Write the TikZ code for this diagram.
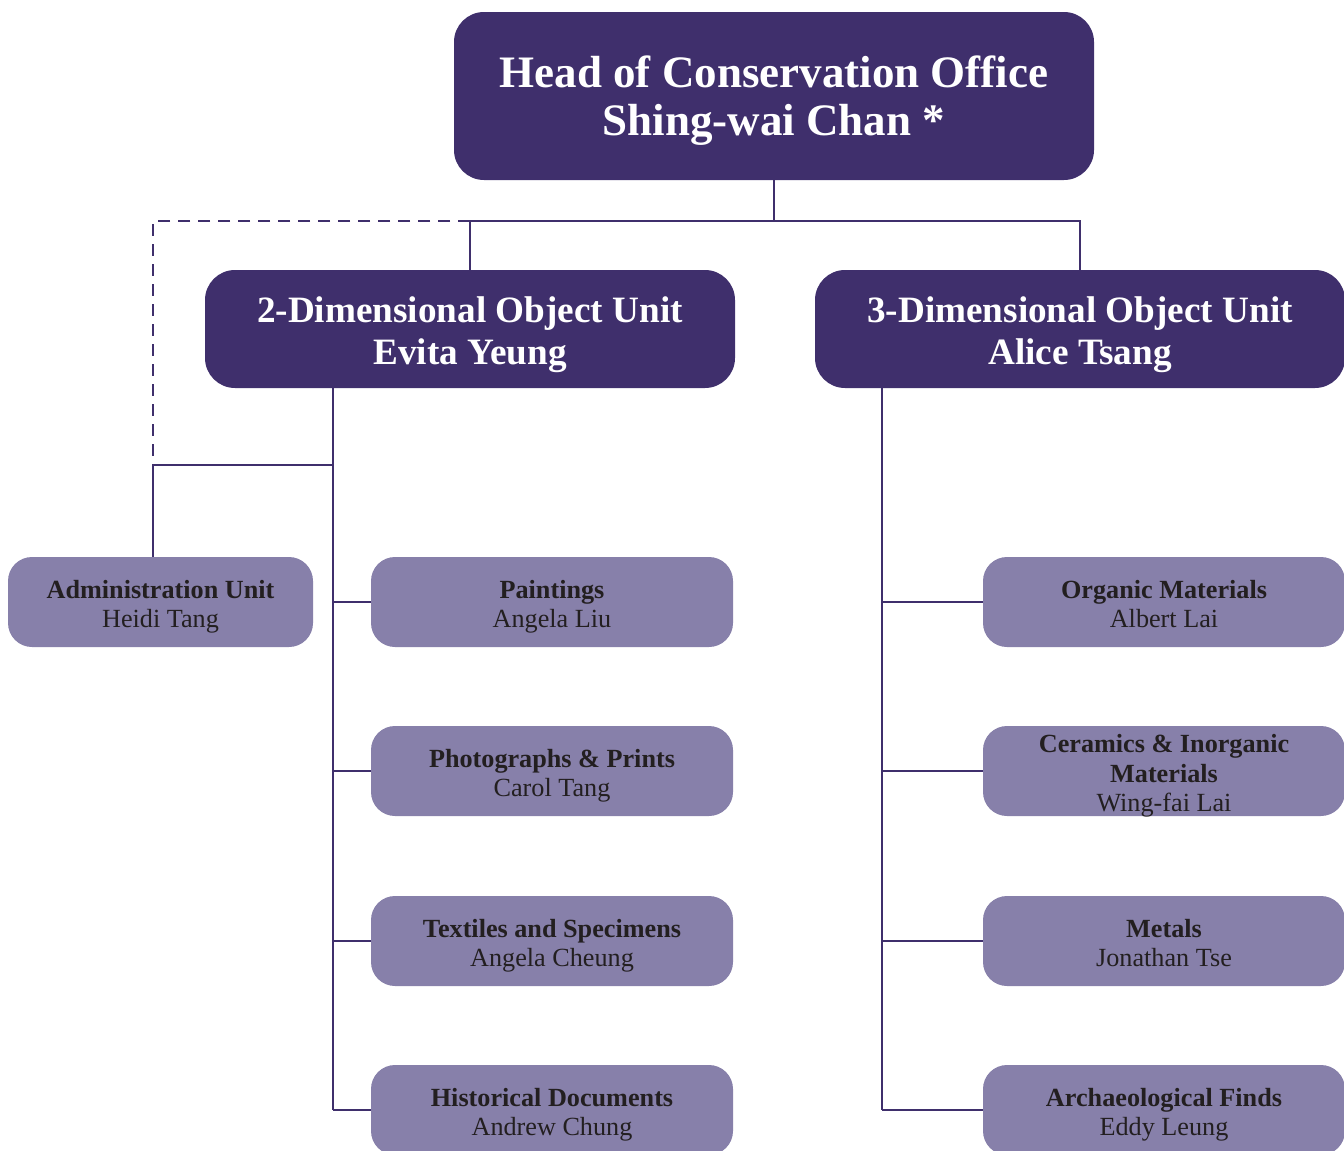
\documentclass[tikz,border=0pt]{standalone}
\usepackage{fontspec}
\setmainfont{Liberation Serif}
\usetikzlibrary{positioning}

\definecolor{deepviolet}{RGB}{63,47,108}
\definecolor{paleviolet}{RGB}{135,128,170}
\definecolor{inkdark}{RGB}{35,31,32}

\tikzset{
  headbox/.style={rectangle, rounded corners=15pt, fill=deepviolet, text=white, align=center,
    font=\fontsize{22.5}{24}\selectfont\bfseries, minimum width=320pt, minimum height=84pt,
    text height=46.3pt, text depth=7.2pt},
  unitbox/.style={rectangle, rounded corners=15pt, fill=deepviolet, text=white, align=center,
    font=\fontsize{18.6}{21}\selectfont\bfseries, minimum width=265pt, minimum height=59pt,
    text height=41.6pt, text depth=6.3pt},
  teambox/.style={rectangle, rounded corners=12pt, fill=paleviolet, text=inkdark, align=center,
    font=\fontsize{13.1}{14.7}\selectfont, minimum width=181pt, minimum height=45pt, inner sep=0pt,
    text height=30.1pt, text depth=4.4pt},
  link/.style={draw=deepviolet, line width=1.2pt},
  dotlink/.style={link, dash pattern=on 6pt off 4pt}
}

\begin{document}
\begin{tikzpicture}[x=0.5pt, y=-0.5pt]
        % \draw[help lines, gray!50, very thin] (0,0) grid[step=100] (1344,1151);
        \useasboundingbox (0,0) rectangle (1344,1151);
        \clip (0,0) rectangle (1344,1151);

        % head of office
        \node[headbox] (head) at (774,96) {Head of Conservation Office\\Shing-wai Chan *};

        % the two units
        \node[unitbox] (twoD) at (470,329) {2-Dimensional Object Unit\\Evita Yeung};
        \node[unitbox] (threeD) at (1080,329) {3-Dimensional Object Unit\\Alice Tsang};

        % teams
        \node[teambox, minimum width=152.5pt] (admin) at (160.5,602) {\textbf{Administration Unit}\\Heidi Tang};
        \node[teambox] (paint) at (552,602) {\textbf{Paintings}\\Angela Liu};
        \node[teambox] (photo) at (552,771) {\textbf{Photographs \& Prints}\\Carol Tang};
        \node[teambox] (textile) at (552,941) {\textbf{Textiles and Specimens}\\Angela Cheung};
        \node[teambox] (hist) at (552,1110) {\textbf{Historical Documents}\\Andrew Chung};

        \node[teambox] (organic) at (1164,602) {\textbf{Organic Materials}\\Albert Lai};
        \node[teambox, text height=42.6pt, text depth=2.2pt] (ceramic) at (1164,771) {\textbf{Ceramics \& Inorganic}\\\textbf{Materials}\\Wing-fai Lai};
        \node[teambox] (metal) at (1164,941) {\textbf{Metals}\\Jonathan Tse};
        \node[teambox] (arch) at (1164,1110) {\textbf{Archaeological Finds}\\Eddy Leung};

        % joints
        \coordinate (split) at (774,221);
        \coordinate (adminjoin) at (153,465);
        \coordinate (ltrunk) at (333,388);
        \coordinate (rtrunk) at (882,388);

        % head to units
        \draw[link] (head) -- (split);
        \draw[link] (twoD.north) -- (twoD.north |- split) -- (threeD.north |- split) -- (threeD.north);
        \draw[dotlink] (twoD.north |- split) -| (adminjoin);

        % admin unit
        \draw[link] (ltrunk |- adminjoin) -- (adminjoin) -- (adminjoin |- admin.north);

        % spines
        \draw[link] (ltrunk) -- (ltrunk |- hist.west);
        \draw[link] (rtrunk) -- (rtrunk |- arch.west);
        \foreach \team in {paint, photo, textile, hist}
          \draw[link] (\team.west) -- (\team.west -| ltrunk);
        \foreach \team in {organic, ceramic, metal, arch}
          \draw[link] (\team.west) -- (\team.west -| rtrunk);
      \end{tikzpicture}
\end{document}
